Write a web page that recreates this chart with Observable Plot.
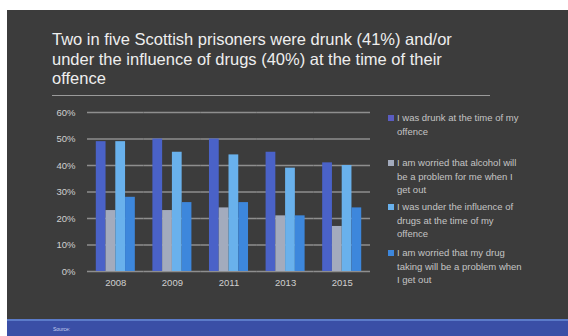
<!DOCTYPE html>
<html>
<head>
<meta charset="utf-8">
<script src="https://cdn.jsdelivr.net/npm/d3@7"></script>
<script src="https://cdn.jsdelivr.net/npm/@observablehq/plot@0.6"></script>
<style>
  html, body { margin: 0; padding: 0; background: #ffffff; }
  body { width: 568px; height: 336px; position: relative; overflow: hidden; font-family: "Liberation Sans", Arial, sans-serif; }
  #panel { position: absolute; left: 7px; top: 10px; width: 561px; height: 326px; background: #3c3c3c; }
  #title { position: absolute; left: 52px; top: 30px; color: #eeeeee; font-size: 16.5px; line-height: 19.5px; white-space: nowrap; }
  #sep { position: absolute; left: 52px; top: 95px; width: 438px; height: 0; border-top: 1.5px solid #9a9a9a; }
  #chart { position: absolute; left: 0; top: 100px; }
  #legend { position: absolute; left: 388px; top: 111px; }
  .item { position: absolute; left: 0; width: 170px; }
  .sw { position: absolute; left: 0; top: 4px; width: 6px; height: 6px; }
  .txt { position: absolute; left: 9px; top: 0; color: #c4c4c4; font-size: 9.5px; line-height: 13.5px; white-space: nowrap; }
  #band { position: absolute; left: 7px; top: 319px; width: 561px; height: 17px; background: #3a4fa6; border-top: 2px solid #5b7bc9; box-sizing: border-box; }
  #src { position: absolute; left: 46px; top: 5px; font-size: 5px; color: #c8d0f0; }
</style>
</head>
<body>
<div id="panel"></div>
<div id="title">Two in five Scottish prisoners were drunk (41%) and/or<br>under the influence of drugs (40%) at the time of their<br>offence</div>
<div id="sep"></div>
<div id="chart"></div>
<div id="legend"></div>
<div id="band"><div id="src">Source:</div></div>
<script>
// ---- data ----
const years = ["2008", "2009", "2011", "2013", "2015"];
const seriesLabels = [
  "I was drunk at the time of my offence",
  "I am worried that alcohol will be a problem for me when I get out",
  "I was under the influence of drugs at the time of my offence",
  "I am worried that my drug taking will be a problem when I get out"
];
const legendLines = [
  ["I was drunk at the time of my", "offence"],
  ["I am worried that alcohol will", "be a problem for me when I", "get out"],
  ["I was under the influence of", "drugs at the time of my", "offence"],
  ["I am worried that my drug", "taking will be a problem when", "I get out"]
];
const drunk          = [49, 50, 50, 45, 41];
const alcoholWorry   = [23, 23, 24, 21, 17];
const drugsInfluence = [49, 45, 44, 39, 40];
const drugWorry      = [28, 26, 26, 21, 24];
const yTicks = [0, 10, 20, 30, 40, 50, 60];
const colors = ["#4a62c8", "#a3abbd", "#69b1ec", "#3d87dc"];
const swatchColors = ["#5a5cc0", "#a3abbd", "#69b1ec", "#3d87dc"];

const seriesValues = [drunk, alcoholWorry, drugsInfluence, drugWorry];
const rows = [];
years.forEach((yr, i) => {
  seriesLabels.forEach((s, j) => rows.push({year: yr, series: s, value: seriesValues[j][i]}));
});

const chart = Plot.plot({
  width: 568,
  height: 200,
  marginTop: 12,
  marginBottom: 29,
  marginLeft: 87,
  marginRight: 198,
  style: {background: "transparent", color: "#d0d0d0", fontFamily: "Liberation Sans, Arial, sans-serif", fontSize: "9.5px"},
  fx: {domain: years, padding: 0, round: false, label: null, axis: "bottom", tickSize: 0, tickPadding: 8},
  x: {domain: seriesLabels, paddingInner: 0, paddingOuter: 0.9, round: false, axis: null},
  y: {domain: [0, 60], ticks: yTicks, tickFormat: d => d + "%", tickSize: 0, tickPadding: 12, label: null},
  color: {domain: seriesLabels, range: colors},
  marks: [
    Plot.ruleY(yTicks, {stroke: "#8e8e8e", strokeWidth: 1.5}),
    Plot.barY(rows, {fx: "year", x: "series", y: "value", fill: "series", inset: 0})
  ]
});
document.getElementById("chart").appendChild(chart);

// legend
const legend = document.getElementById("legend");
const itemTops = [0, 45, 89, 135];
legendLines.forEach((lines, i) => {
  const it = document.createElement("div");
  it.className = "item";
  it.style.top = itemTops[i] + "px";
  const sw = document.createElement("div");
  sw.className = "sw";
  sw.style.background = swatchColors[i];
  const tx = document.createElement("div");
  tx.className = "txt";
  tx.innerHTML = lines.join("<br>");
  it.appendChild(sw); it.appendChild(tx);
  legend.appendChild(it);
});
</script>
</body>
</html>
